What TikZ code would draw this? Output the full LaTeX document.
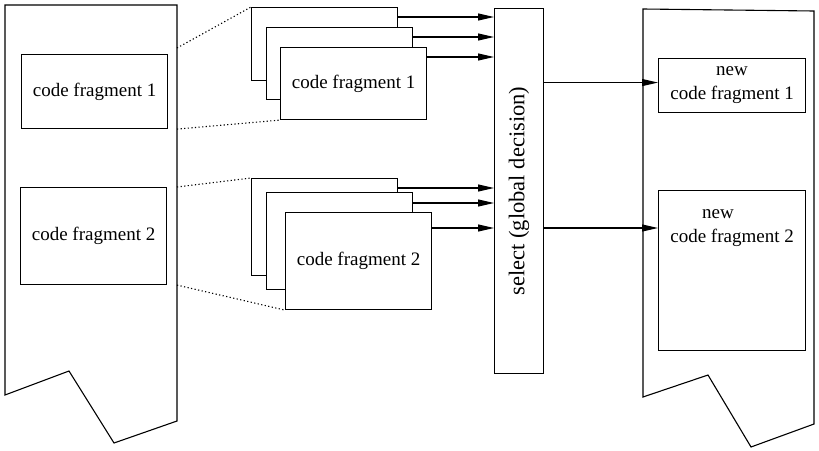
\documentclass[tikz,border=0pt]{standalone}
\usepackage{fontspec}
\setmainfont{Liberation Serif}
\usetikzlibrary{arrows.meta,calc}

\begin{document}
\begin{tikzpicture}[x=1pt, y=-1pt, line width=1.1pt,
font=\fontsize{19}{24}\selectfont,
% common options for the fragment boxes:
frag/.style = {draw, fill=white, align=center, anchor=north west,
            minimum width=146pt, inner sep=0},
% common options for the arrows and the dotted zoom lines:
arr/.style = {-{Triangle[length=16pt,width=7pt]}},
zoomline/.style = {dash pattern=on 1.2pt off 2.4pt, line width=1.1pt}]
\useasboundingbox (0,0) rectangle (819,450);
% the two pages
\draw (5,5) -- (177,5) -- (177,421) -- (114,443) -- (69,371) -- (5,395) -- cycle;
\draw (643,9) -- (814,11) -- (814,424) -- (751,447) -- (708,375) -- (643,397) -- cycle;
\coordinate (Pl) at (177,0);
% old fragments
\node[frag, minimum height=74pt] (L1) at (21,54) {code fragment 1};
\node[frag, minimum height=97pt] (L2) at (20,187) {code fragment 2};
% candidate stacks
\node[frag, minimum height=73pt] (A1) at (251,7) {};
\node[frag, minimum height=72pt] (A2) at (266,27) {};
\node[frag, minimum height=72pt] (A3) at (280,47) {code fragment 1};
\node[frag, minimum height=97pt] (B1) at (251,178) {};
\node[frag, minimum height=97pt] (B2) at (266,192) {};
\node[frag, minimum height=97pt] (B3) at (285,212) {code fragment 2};
% select
\node[frag, minimum width=49pt, minimum height=365pt,
      font=\fontsize{22.5}{27}\selectfont] (S) at (494,8) {\rotatebox{90}{select (global decision)}};
% new fragments
\node[frag, minimum width=147pt, minimum height=54pt] (N1) at (658,58) {new\\code fragment 1};
\node[frag, minimum width=147pt, minimum height=160pt,
      label={[anchor=north, align=center, yshift=-16pt]north:new\hspace*{28pt}\\code fragment 2}] (N2) at (658,190) {};
% zoom lines
\draw[zoomline] ($(L1.north -| Pl)+(0,-6)$) -- (A1.north west);
\draw[zoomline] (L1.south -| Pl) -- (A3.south west);
\draw[zoomline] (L2.north -| Pl) -- (B1.north west);
\draw[zoomline] (L2.south -| Pl) -- (B3.south west);
% arrows into select
\path ([yshift=-10pt]A1.north east) coordinate (a1)
      ([yshift=-10pt]A2.north east) coordinate (a2)
      ([yshift=-10pt]A3.north east) coordinate (a3)
      ([yshift=-10pt]B1.north east) coordinate (b1)
      ([yshift=-11pt]B2.north east) coordinate (b2)
      ([yshift=-16pt]B3.north east) coordinate (b3)
      ([yshift=-38pt]N2.north west) coordinate (n2);
\draw[arr] (a1) -- (a1 -| S.west);
\draw[arr] (a2) -- (a2 -| S.west);
\draw[arr] (a3) -- (a3 -| S.west);
\draw[arr] (b1) -- (b1 -| S.west);
\draw[arr] (b2) -- (b2 -| S.west);
\draw[arr] (b3) -- (b3 -| S.west);
% arrows out of select
\draw[arr] ($(S.east |- N1.west)+(0,-3)$) -- ($(N1.west)+(0,-3)$);
\draw[arr] (n2 -| S.east) -- (n2);
\end{tikzpicture}
\end{document}
